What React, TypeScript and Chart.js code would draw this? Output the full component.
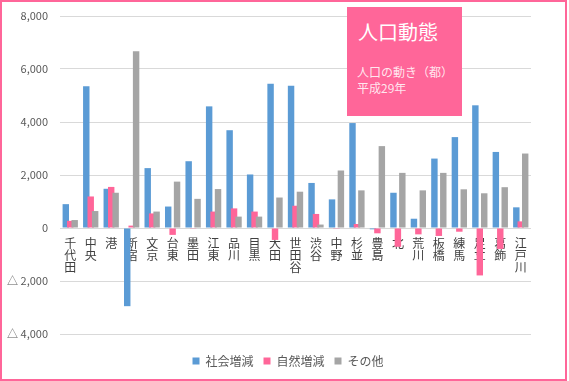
import React, { useEffect, useRef } from 'react';
import { Chart, registerables } from 'chart.js';

Chart.register(...registerables);

const FONT = '"Noto Sans CJK JP", "Noto Sans", sans-serif';

const categories = ['千代田', '中央', '港', '新宿', '文京', '台東', '墨田', '江東', '品川', '目黒', '大田', '世田谷', '渋谷', '中野', '杉並', '豊島', '北', '荒川', '板橋', '練馬', '足立', '葛飾', '江戸川'];
const socialChange = [900, 5350, 1480, -2950, 2260, 810, 2520, 4590, 3690, 2020, 5440, 5370, 1700, 1080, 3960, -50, 1330, 350, 2620, 3430, 4630, 2870, 780];
const naturalChange = [270, 1190, 1550, 90, 550, -260, -10, 620, 740, 620, -450, 840, 530, -30, 150, -200, -710, -240, -300, -140, -1790, -790, 250];
const otherChange = [300, 640, 1330, 6670, 620, 1750, 1100, 1470, 430, 430, 1150, 1370, 130, 2170, 1420, 3090, 2080, 1420, 2080, 1460, 1310, 1540, 2810];
const seriesNames = ['社会増減', '自然増減', 'その他'];
const seriesColors = ['#5B9BD5', '#FF6699', '#A5A5A5'];
const yMin = -4000;
const yMax = 8000;
const yStep = 2000;
const titleText = '人口動態';
const subtitleLines = ['人口の動き（都）', '平成29年'];

const fmt = (v: number) => Math.abs(v).toLocaleString('en-US');

// Draw datasets in index order so later series sit on top (like the reference)
const drawOrderPlugin = {
  id: 'drawOrder',
  beforeDatasetsDraw(chart: any) {
    for (let i = 0; i < chart.data.datasets.length; i++) {
      const meta = chart.getDatasetMeta(i);
      if (chart.isDatasetVisible(i)) meta.controller.draw();
    }
    return false;
  },
};

// Shift the legend's box so it is centred like the reference
const legendShiftPlugin = {
  id: 'legendShift',
  afterLayout(chart: any) {
    if (chart.legend) chart.legend.left = 45;
  },
};

export default function App() {
  const ref = useRef<HTMLCanvasElement>(null);

  useEffect(() => {
    document.body.style.margin = '0';
    Chart.defaults.font.family = FONT;
    const datasets = [socialChange, naturalChange, otherChange].map((d, i) => ({
      label: seriesNames[i],
      data: d,
      backgroundColor: seriesColors[i],
      borderWidth: 0,
      categoryPercentage: 0.65,
      barPercentage: 1.45,
    }));
    const chart = new Chart(ref.current as HTMLCanvasElement, {
      type: 'bar',
      data: { labels: categories.map((c) => c.split('')), datasets },
      plugins: [drawOrderPlugin, legendShiftPlugin],
      options: {
        animation: false,
        responsive: false,
        devicePixelRatio: 1,
        layout: { padding: { left: 0, right: 38, top: 16, bottom: 4 } },
        scales: {
          x: {
            position: { y: 0 } as any,
            grid: { display: false, drawTicks: false },
            border: { display: false },
            ticks: {
              color: '#404040',
              font: { family: FONT, size: 12, lineHeight: 1 },
              padding: 9,
              maxRotation: 0,
              minRotation: 0,
              autoSkip: false,
            },
          },
          y: {
            min: yMin,
            max: yMax,
            grid: { color: '#D9D9D9', drawTicks: false, lineWidth: 1 },
            border: { display: false },
            ticks: {
              stepSize: yStep,
              color: '#595959',
              padding: 12,
              font: { family: FONT, size: 11 },
              callback: (v: any) => (v < 0 ? '△ ' + fmt(v) : fmt(v)),
            },
            afterFit: (s: any) => {
              s.width = 60;
              s.paddingTop = 0;
              s.paddingBottom = 0;
            },
          },
        },
        plugins: {
          tooltip: { enabled: false },
          legend: {
            position: 'bottom',
            title: { display: true, text: '', padding: 0, font: { size: 11, lineHeight: 1 } },
            labels: {
              boxWidth: 7,
              boxHeight: 7,
              padding: 10,
              color: '#595959',
              font: { family: FONT, size: 12 },
            },
          },
        },
      } as any,
    });
    return () => chart.destroy();
  }, []);

  return (
    <div style={{ position: 'relative', width: 569, height: 381, overflow: 'hidden', background: '#fff' }}>
      <canvas ref={ref} width={569} height={381} style={{ display: 'block', width: 569, height: 381 }} />
      <div
        style={{
          position: 'absolute',
          left: 347,
          top: 7,
          width: 115,
          height: 109,
          background: '#FF6699',
          color: '#fff',
          fontFamily: FONT,
        }}
      >
        <div style={{ position: 'absolute', left: 11, top: 14, fontSize: 20, lineHeight: '22px', whiteSpace: 'nowrap' }}>{titleText}</div>
        <div
          style={{
            position: 'absolute',
            left: 10,
            top: 57,
            fontSize: 12,
            lineHeight: '16px',
            color: 'rgba(255,255,255,0.85)',
            whiteSpace: 'nowrap',
          }}
        >
          {subtitleLines[0]}
          <br />
          {subtitleLines[1]}
        </div>
      </div>
      <div
        style={{
          position: 'absolute',
          left: 0,
          top: 0,
          width: 567,
          height: 381,
          border: '2px solid #FF6699',
          boxSizing: 'border-box',
          pointerEvents: 'none',
        }}
      />
    </div>
  );
}
